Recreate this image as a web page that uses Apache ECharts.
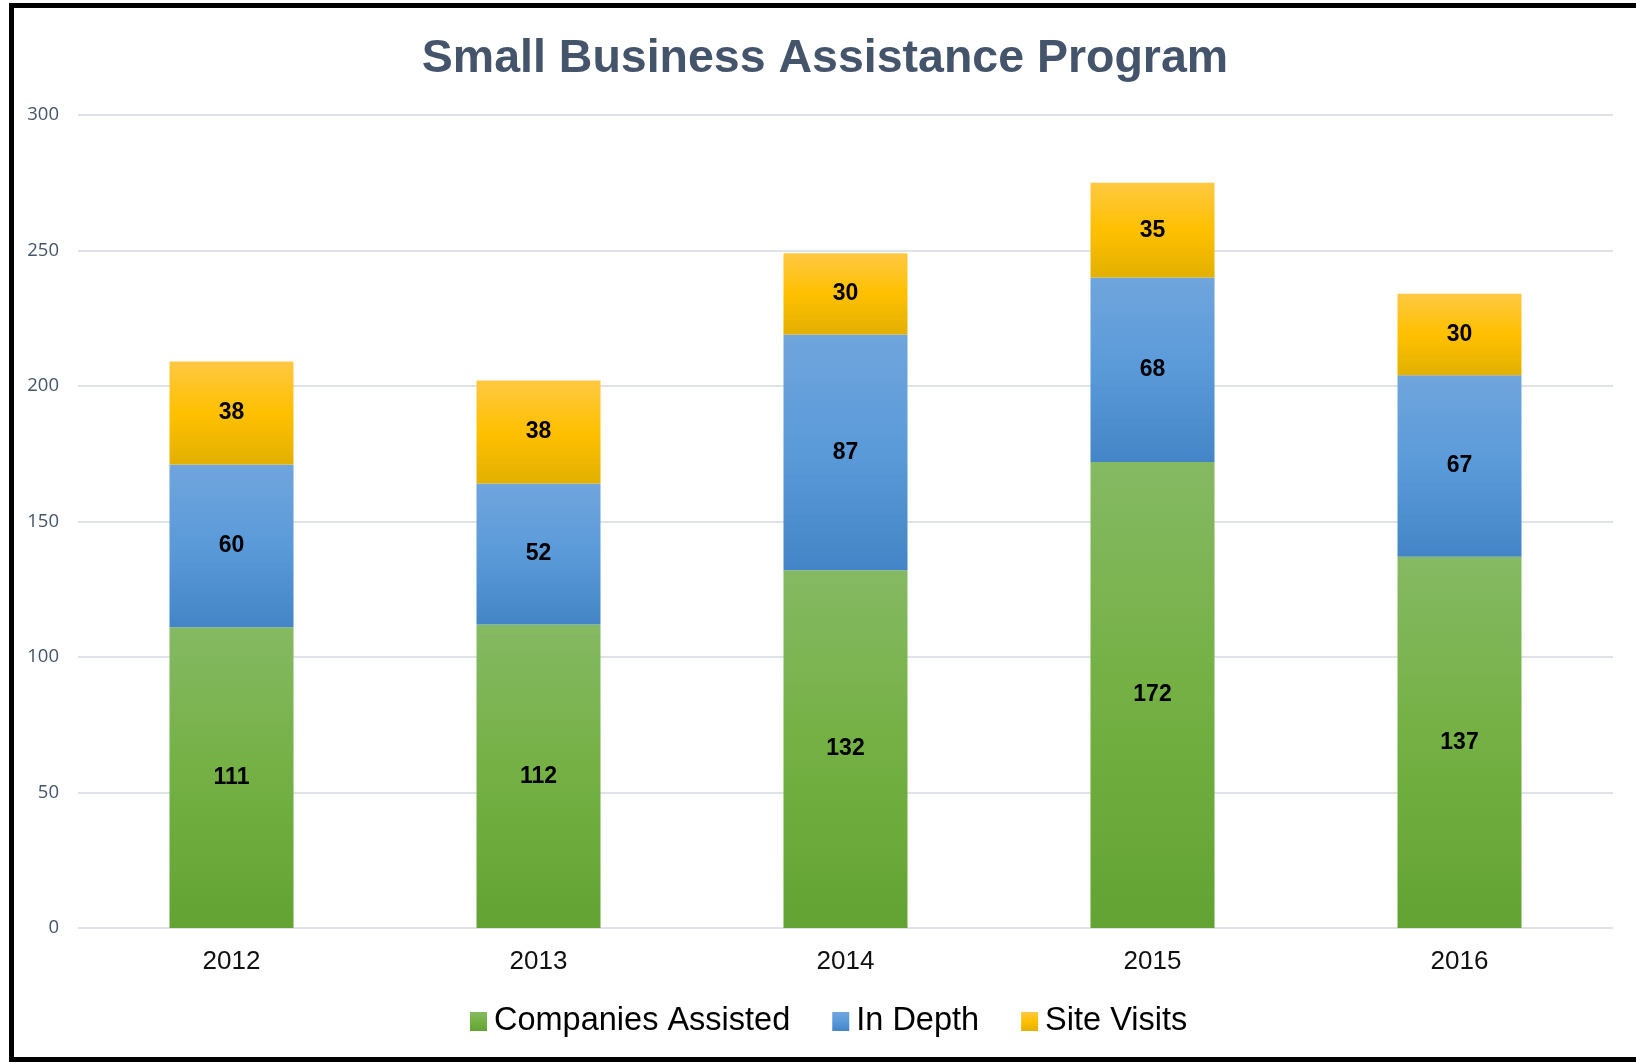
<!DOCTYPE html>
<html>
<head>
<meta charset="utf-8">
<script src="https://cdn.jsdelivr.net/npm/echarts@6/dist/echarts.min.js"></script>
<style>
  html, body { margin: 0; padding: 0; background: #fff; }
  #wrap { position: relative; width: 1636px; height: 1062px; overflow: hidden; }
  #chart { position: absolute; left: 0; top: 0; width: 1636px; height: 1062px; }
  #frame {
    position: absolute; left: 9px; top: 3px; width: 1700px; height: 1049px;
    border-left: 5px solid #000; border-top: 5px solid #000; border-bottom: 5px solid #000;
    pointer-events: none;
  }
</style>
</head>
<body>
<div id="wrap">
  <div id="chart"></div>
  <div id="frame"></div>
</div>
<script>
const years = ['2012', '2013', '2014', '2015', '2016'];
const companiesAssisted = [111, 112, 132, 172, 137];
const inDepth = [60, 52, 87, 68, 67];
const siteVisits = [38, 38, 30, 35, 30];

const FONT = '"Liberation Sans", Arial, sans-serif';

function grad(top, mid, bottom) {
  return new echarts.graphic.LinearGradient(0, 0, 0, 1, [
    { offset: 0, color: top },
    { offset: 0.5, color: mid },
    { offset: 1, color: bottom }
  ]);
}

const greenFill = grad('#85b963', '#74b043', '#62a333');
const blueFill = grad('#70a5dd', '#5a9ad9', '#4485c7');
const yellowFill = grad('#ffc842', '#ffc000', '#e2b000');

const label = {
  show: true,
  position: 'inside',
  color: '#000',
  fontFamily: FONT,
  fontWeight: 'bold',
  fontSize: 23
};

function bar(name, data, fill) {
  return {
    name,
    type: 'bar',
    stack: 'total',
    data,
    barWidth: 124,
    itemStyle: { color: fill },
    label,
    emphasis: { disabled: true }
  };
}

const chart = echarts.init(document.getElementById('chart'));
chart.setOption({
  animation: false,
  backgroundColor: '#fff',
  title: {
    text: 'Small Business Assistance Program',
    left: 820,
    textAlign: 'center',
    top: 31,
    textStyle: { color: '#44546a', fontFamily: FONT, fontWeight: 'bold', fontSize: 46.5 }
  },
  grid: { left: 78, right: 23, top: 115, bottom: 134 },
  xAxis: {
    type: 'category',
    data: years,
    axisLine: { show: false },
    axisTick: { show: false },
    axisLabel: { color: '#111', fontFamily: FONT, fontSize: 26, margin: 21 }
  },
  yAxis: {
    type: 'value',
    min: 0,
    max: 300,
    interval: 50,
    axisLine: { show: false },
    axisTick: { show: false },
    axisLabel: { color: '#44546a', fontFamily: '"Open Sans", sans-serif', fontSize: 18.5, margin: 19 },
    splitLine: { lineStyle: { color: '#dfe3e8', width: 2 } }
  },
  legend: {
    left: 465,
    top: 1000,
    itemWidth: 17,
    itemHeight: 19,
    itemGap: 42,
    icon: 'rect',
    textStyle: { color: '#000', fontFamily: FONT, fontSize: 32.5, padding: [0, 0, 0, 2] },
    data: ['Companies Assisted', 'In Depth', 'Site Visits']
  },
  series: [
    bar('Companies Assisted', companiesAssisted, greenFill),
    bar('In Depth', inDepth, blueFill),
    bar('Site Visits', siteVisits, yellowFill)
  ]
});
</script>
</body>
</html>
